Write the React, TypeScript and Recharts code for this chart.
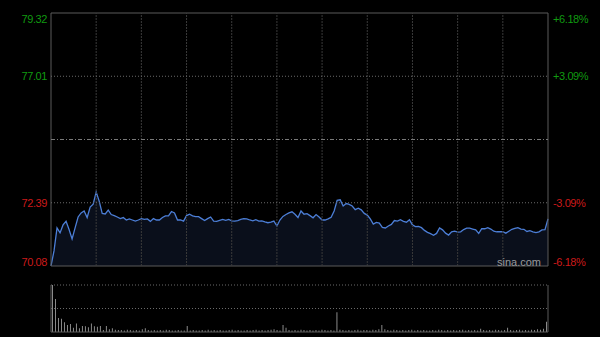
import {
  ComposedChart,
  BarChart,
  Bar,
  Area,
  Line,
  XAxis,
  YAxis,
  ReferenceLine,
  ReferenceArea,
} from "recharts";

// HK session: 330 minutes, one sample every 2 minutes
const PREV_CLOSE = 74.7;
const PRICE_TICKS = [70.08, 72.39, 77.01, 79.32];
const PCT_TICKS = [-6.18, -3.09, 3.09, 6.18];
const GRID_MINUTES = [30, 60, 90, 120, 150, 180, 210, 240, 270, 300];

const PRICES = [
  70.08, 70.63, 71.47, 71.29, 71.58, 71.71, 71.41, 71.07, 71.47, 71.87,
  72.02, 72.09, 71.85, 72.23, 72.34, 72.78, 72.45, 72.0, 71.98, 72.12,
  71.96, 71.92, 71.87, 71.81, 71.85, 71.76, 71.8, 71.76, 71.72, 71.76,
  71.81, 71.78, 71.8, 71.71, 71.81, 71.76, 71.76, 71.85, 71.91, 71.91,
  72.07, 72.02, 71.76, 71.76, 71.72, 71.92, 71.97, 71.91, 71.88, 71.88,
  71.81, 71.74, 71.81, 71.87, 71.72, 71.71, 71.75, 71.78, 71.75, 71.78,
  71.73, 71.72, 71.74, 71.78, 71.81, 71.8, 71.76, 71.73, 71.77, 71.72,
  71.73, 71.69, 71.66, 71.68, 71.72, 71.54, 71.76, 71.89, 71.96, 72.02,
  72.06, 71.97, 71.85, 72.09, 71.97, 71.99, 71.92, 71.84, 71.96, 71.87,
  71.76, 71.76, 71.8, 71.86, 72.09, 72.48, 72.5, 72.27, 72.36, 72.33,
  72.27, 72.14, 72.19, 72.13, 72.0, 71.94, 71.8, 71.61, 71.67, 71.65,
  71.49, 71.47, 71.54, 71.6, 71.74, 71.72, 71.77, 71.71, 71.68, 71.77,
  71.58, 71.52, 71.53, 71.48, 71.38, 71.31, 71.26, 71.2, 71.27, 71.47,
  71.4, 71.28, 71.21, 71.33, 71.35, 71.32, 71.33, 71.41, 71.46, 71.46,
  71.43, 71.4, 71.27, 71.44, 71.44, 71.48, 71.43, 71.35, 71.33, 71.33,
  71.33, 71.28, 71.35, 71.42, 71.45, 71.48, 71.43, 71.42, 71.34, 71.37,
  71.33, 71.3, 71.33, 71.4, 71.41, 71.8,
];

const VOLUMES = [
  100, 70, 30, 28, 21, 15, 17, 9, 18, 8, 13, 12, 10, 18, 12, 11, 13, 4, 13, 6, 8,
  5, 4, 4, 3, 5, 4, 3, 4, 3, 6, 8, 4, 3, 4, 3, 4, 3, 5, 4, 3, 3, 4, 3, 3,
  13,
  3, 4, 3, 3, 4, 3, 5, 3, 4, 3, 4, 3, 3, 4, 5, 3, 4, 3, 3, 4, 3, 4, 5, 3, 4, 3, 4, 5, 6, 4, 3,
  15, 9,
  4, 3, 4, 3, 5, 4, 3, 4, 3, 4, 3, 5, 4, 3, 4, 3,
  42,
  5, 4, 3, 4, 3, 4, 5, 3, 4, 4, 3, 5, 4, 6,
  15,
  6, 4, 3, 5, 4, 3, 4, 3, 4, 5, 3, 4, 3, 4, 3, 3, 4, 3, 5, 4, 3, 4, 3, 4, 3, 4, 5, 3, 4, 3, 4, 3,
  7,
  4, 3, 4, 3, 5, 4, 3, 4,
  9,
  4, 3, 4, 5, 3, 4, 3, 5, 4, 6, 5, 7,
  22,
];

const GREEN = "#109a10";
const RED = "#cc1a1a";
const FONT = '"Liberation Sans", Arial, sans-serif';

const priceData = PRICES.map((p, i) => ({
  t: i * 2,
  price: p,
  pct: ((p - PREV_CLOSE) / PREV_CLOSE) * 100,
}));
const volumeData = VOLUMES.map((v, i) => ({ i, vol: v }));

const P_MIN = PRICE_TICKS[0];
const P_MAX = PRICE_TICKS[PRICE_TICKS.length - 1];

function PriceTick({ x, y, payload }: any) {
  const v = payload.value as number;
  const dy = v === P_MAX ? 10 : v === P_MIN ? 0 : 4;
  return (
    <text
      x={x}
      y={y + dy}
      textAnchor="end"
      fill={v > PREV_CLOSE ? GREEN : RED}
      fontSize={11}
      fontFamily={FONT}
      letterSpacing={-0.4}
    >
      {v.toFixed(2)}
    </text>
  );
}

function PctTick({ x, y, payload }: any) {
  const v = payload.value as number;
  const dy = v === PCT_TICKS[PCT_TICKS.length - 1] ? 10 : v === PCT_TICKS[0] ? 0 : 4;
  return (
    <text
      x={x}
      y={y + dy}
      textAnchor="start"
      fill={v > 0 ? GREEN : RED}
      fontSize={11}
      fontFamily={FONT}
      letterSpacing={-0.4}
    >
      {(v > 0 ? "+" : "") + v.toFixed(2) + "%"}
    </text>
  );
}

export default function App() {
  return (
    <div
      style={{
        position: "fixed",
        left: 0,
        top: 0,
        width: 600,
        height: 337,
        background: "#000",
        overflow: "hidden",
      }}
    >
      <div style={{ position: "absolute", left: 0, top: 0 }}>
        <ComposedChart
          width={600}
          height={280}
          data={priceData}
          margin={{ top: 13, right: 0, bottom: 14, left: 0 }}
        >
          <XAxis dataKey="t" type="number" domain={[0, 330]} hide />
          <YAxis
            yAxisId="p"
            domain={[P_MIN, P_MAX]}
            ticks={PRICE_TICKS}
            interval={0}
            allowDataOverflow
            width={51}
            axisLine={false}
            tickLine={false}
            tickSize={0}
            tickMargin={4}
            tick={<PriceTick />}
          />
          <YAxis
            yAxisId="pct"
            orientation="right"
            domain={[PCT_TICKS[0], PCT_TICKS[PCT_TICKS.length - 1]]}
            ticks={PCT_TICKS}
            interval={0}
            allowDataOverflow
            width={52}
            axisLine={false}
            tickLine={false}
            tickSize={0}
            tickMargin={5}
            tick={<PctTick />}
          />
          {GRID_MINUTES.map((m) => (
            <ReferenceLine
              key={m}
              yAxisId="p"
              x={m}
              stroke="#3a3a3a"
              strokeDasharray="2 1"
            />
          ))}
          <ReferenceLine yAxisId="p" y={77.01} stroke="#6a6a6a" strokeDasharray="1 2" />
          <ReferenceLine yAxisId="p" y={72.39} stroke="#6a6a6a" strokeDasharray="1 2" />
          <ReferenceLine yAxisId="p" y={PREV_CLOSE} stroke="#7a7a7a" strokeDasharray="4 2 1 2" />
          <Area
            yAxisId="p"
            dataKey="price"
            type="linear"
            stroke="#4c7ed6"
            strokeWidth={1.3}
            fill="#1c2a4c"
            fillOpacity={0.35}
            dot={false}
            activeDot={false}
            isAnimationActive={false}
          />
          <Line
            yAxisId="pct"
            dataKey="pct"
            stroke="none"
            dot={false}
            activeDot={false}
            isAnimationActive={false}
          />
          <ReferenceArea
            yAxisId="p"
            x1={0}
            x2={330}
            y1={P_MIN}
            y2={P_MAX}
            fill="none"
            stroke="#5a5a5a"
            strokeWidth={1}
          />
        </ComposedChart>
      </div>
      <div style={{ position: "absolute", left: 0, top: 270 }}>
        <BarChart
          width={600}
          height={67}
          data={volumeData}
          margin={{ top: 15, right: 52, bottom: 5, left: 51 }}
        >
          <XAxis dataKey="i" type="number" domain={[-0.5, VOLUMES.length - 0.5]} hide />
          <YAxis domain={[0, 100]} hide allowDataOverflow />
          <ReferenceLine y={100} stroke="#6a6a6a" strokeDasharray="1 2" />
          <ReferenceLine y={50} stroke="#6a6a6a" strokeDasharray="1 2" />
          <ReferenceLine y={0} stroke="#5a5a5a" />
          <ReferenceLine x={-0.5} stroke="#5a5a5a" />
          <ReferenceLine x={VOLUMES.length - 0.5} stroke="#5a5a5a" />
          <Bar dataKey="vol" fill="#8a8a8a" barSize={1} isAnimationActive={false} />
        </BarChart>
      </div>
      <div
        style={{
          position: "absolute",
          left: 497,
          top: 256,
          color: "#9a9a9a",
          fontFamily: FONT,
          fontSize: 11,
          lineHeight: "12px",
        }}
      >
        sina.com
      </div>
    </div>
  );
}
